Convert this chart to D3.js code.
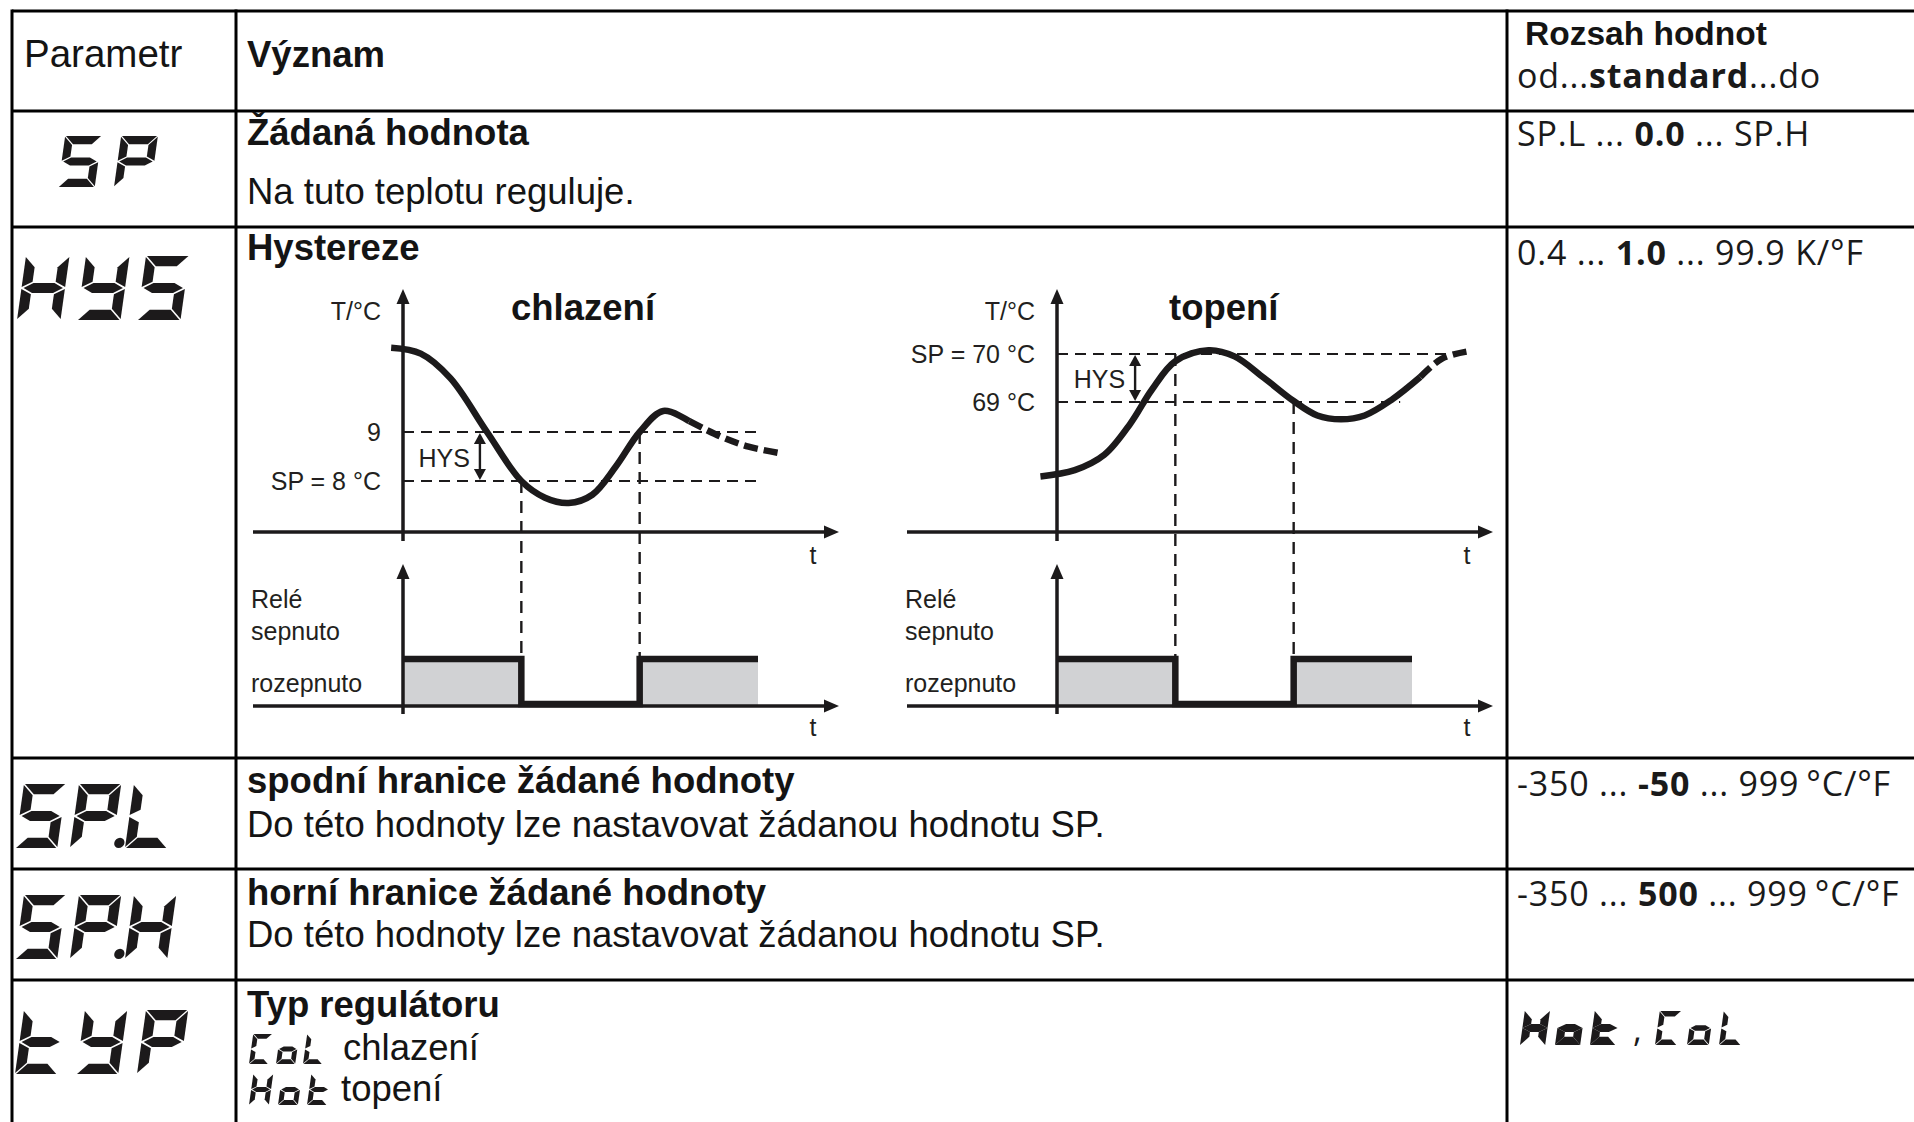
<!DOCTYPE html>
<html>
<head>
<meta charset="utf-8">
<script src="https://cdn.jsdelivr.net/npm/d3@7"></script>
<style>
  body { margin: 0; background: #fff; }
  text { font-family: "Liberation Sans", Arial, sans-serif; fill: #141414; }
  .main { font-size: 36.5px; }
  .bold { font-weight: bold; }
  .rng { font-family: "Open Sans", "Liberation Sans", sans-serif; font-size: 34px; letter-spacing: 0.8px; fill: #1a1a1a; }
  .lbl { font-size: 25px; fill: #231f20; }
</style>
</head>
<body>
<script>
// table content
const columns = ["Parametr", "Význam"];
const rangeHead = "Rozsah hodnot";
const rangeSub = ["od...", "standard", "...do"];
const params = ["SP", "HYS", "SP.L", "SP.H", "tYP"];
const titles = ["Žádaná hodnota", "Hystereze", "spodní hranice žádané hodnoty", "horní hranice žádané hodnoty", "Typ regulátoru"];
const notes = ["Na tuto teplotu reguluje.", "", "Do této hodnoty lze nastavovat žádanou hodnotu SP.", "Do této hodnoty lze nastavovat žádanou hodnotu SP.", ""];
const ranges = [["SP.L ... ", "0.0", " ... SP.H"], ["0.4 ... ", "1.0", " ... 99.9 K/°F"], ["-350 ... ", "-50", " ... 999", "°C/°F"], ["-350 ... ", "500", " ... 999", "°C/°F"], null];
const typOptions = [["CoL", "chlazení"], ["Hot", "topení"]];
const typValues = ["Hot", "CoL"];

// diagrams: time in relay periods, temperature in °C
const coolLevels = [8, 9];
const coolLabels = ["SP = 8 °C", "9"];
const heatLevels = [69, 70];
const heatLabels = ["69 °C", "SP = 70 °C"];
const coolCurve = [[-0.1, 10.72], [0.15, 10.6], [0.4, 10.1], [0.71, 9.0], [1.0, 8.0], [1.2, 7.66], [1.4, 7.55], [1.6, 7.72], [1.8, 8.3], [2.0, 9.0], [2.2, 9.43], [2.42, 9.22]];
const coolTail = [[2.42, 9.22], [2.55, 9.06], [2.73, 8.86], [2.92, 8.7], [3.18, 8.57]];
const heatCurve = [[-0.14, 67.45], [0.15, 67.58], [0.4, 67.9], [0.62, 68.55], [0.8, 69.25], [1.0, 69.85], [1.28, 70.08], [1.5, 69.95], [1.75, 69.5], [2.0, 69.02], [2.2, 68.72], [2.4, 68.64], [2.6, 68.72], [2.83, 69.05], [3.07, 69.52]];
const heatTail = [[3.07, 69.52], [3.25, 69.9], [3.46, 70.05]];
const relayStates = [[0, 1], [1, 0], [2, 1], [3, 1]];
const relayOn = [[0, 1], [2, 3]];
const coolSwitch = [[1, 8], [2, 9]];
const heatSwitch = [[1, 70], [2, 69]];
const relayLabels = ["Relé", "sepnuto", "rozepnuto"];

const W = 1914, H = 1122;
const ink = "#1c1a1b";
const svg = d3.select("body").append("svg").attr("width", W).attr("height", H);
svg.append("rect").attr("width", W).attr("height", H).attr("fill", "#fff");

// grid
const rowY = [11, 111, 227, 758, 869, 980];
const colX = [12, 236, 1507];
svg.selectAll(".hl").data(rowY).enter().append("line").attr("class", "hl")
  .attr("x1", colX[0]).attr("x2", W).attr("y1", d => d).attr("y2", d => d)
  .attr("stroke", "#000").attr("stroke-width", 3);
svg.selectAll(".vl").data(colX).enter().append("line").attr("class", "vl")
  .attr("x1", d => d).attr("x2", d => d).attr("y1", rowY[0] - 1.5).attr("y2", H)
  .attr("stroke", "#000").attr("stroke-width", 3);

// header
svg.append("text").attr("class", "main").attr("x", 24).attr("y", 67).style("font-size", "38.5px").text(columns[0]);
svg.append("text").attr("class", "main bold").attr("x", 247).attr("y", 67).text(columns[1]);
svg.append("text").attr("class", "bold").attr("x", 1525).attr("y", 45).style("font-size", "33.5px").text(rangeHead);
const sub = svg.append("text").attr("class", "rng").attr("x", 1517).attr("y", 88);
rangeSub.forEach((s, i) => sub.append("tspan").style("font-weight", i === 1 ? "bold" : null).text(s));

// rows
const titleY = [145, 260, 793, 905, 1017];
const noteY = [204, 0, 837, 947, 0];
const rangeY = [146, 265, 796, 906, 0];
titles.forEach((t, i) => {
  svg.append("text").attr("class", "main bold").attr("x", 247).attr("y", titleY[i]).text(t);
  if (notes[i]) svg.append("text").attr("class", "main").attr("x", 247).attr("y", noteY[i]).text(notes[i]);
  if (ranges[i]) {
    const r = svg.append("text").attr("class", "rng").attr("x", 1517).attr("y", rangeY[i]);
    ranges[i].forEach((s, k) => r.append("tspan")
      .attr("dx", k === 3 ? 7 : null)
      .style("font-weight", k === 1 ? "bold" : null).text(s));
  }
});

// seven segment lettering
const SEGMENTS = { S: "acdfg", P: "abefg", H: "bcefg", Y: "bcdfg", L: "def", t: "defg", C: "adef", o: "cdeg" };
function segPoly(s, w, h, t, gp) {
  const m = h / 2;
  switch (s) {
    case "a": return [[gp, 0], [w - gp, 0], [w - t - gp, t], [t + gp, t]];
    case "d": return [[gp, h], [w - gp, h], [w - t - gp, h - t], [t + gp, h - t]];
    case "f": return [[0, gp], [t, t + gp], [t, m - t / 2 - gp], [0, m - gp]];
    case "e": return [[0, h - gp], [t, h - t - gp], [t, m + t / 2 + gp], [0, m + gp]];
    case "b": return [[w, gp], [w - t, t + gp], [w - t, m - t / 2 - gp], [w, m - gp]];
    case "c": return [[w, h - gp], [w - t, h - t - gp], [w - t, m + t / 2 + gp], [w, m + gp]];
    default: return [[2 * gp, m], [t + gp, m - t / 2], [w - t - gp, m - t / 2], [w - 2 * gp, m], [w - t - gp, m + t / 2], [t + gp, m + t / 2]];
  }
}
const slant = Math.tan(8 * Math.PI / 180);
function drawCode(str, x, top, h, pitch, o = {}) {
  const w = h * (o.ratio || 0.66), t = h * (o.thick || 0.16), gp = o.gap ?? h * 0.016;
  let cx = x, last = null;
  for (const ch of str) {
    if (ch === ".") {
      last.append("circle").attr("cx", w + (pitch - w) / 2).attr("cy", h - t / 2).attr("r", t * 0.5).attr("fill", ink);
      continue;
    }
    const cg = svg.append("g").attr("transform", `translate(${cx + h * slant},${top}) skewX(-8)`);
    cg.selectAll("polygon").data(SEGMENTS[ch].split("")).enter().append("polygon")
      .attr("points", s => segPoly(s, w, h, t, gp).join(" ")).attr("fill", ink);
    last = cg;
    cx += pitch;
  }
}
const codePos = [[58, 136, 51, 56, { ratio: 0.72 }], [17, 256, 64, 60, { ratio: 0.68 }], [15, 784, 64, 55], [15, 895, 64, 55], [15, 1010, 64, 61]];
params.forEach((p, i) => drawCode(p, ...codePos[i]));

// typ options
drawCode(typOptions[0][0], 249, 1034, 30, 27, { ratio: 0.64 });
svg.append("text").attr("class", "main").attr("x", 343).attr("y", 1060).text(typOptions[0][1]);
drawCode(typOptions[1][0], 249, 1074, 31, 29, { ratio: 0.64 });
svg.append("text").attr("class", "main").attr("x", 341).attr("y", 1101).text(typOptions[1][1]);
drawCode(typValues[0], 1520, 1011, 34, 35, { ratio: 0.74, thick: 0.24, gap: 0 });
svg.append("text").attr("class", "rng").attr("x", 1633).attr("y", 1042).text(",");
drawCode(typValues[1], 1655, 1011, 34, 32, { ratio: 0.64 });

// diagrams
function arrowUp(g, x, y) {
  g.append("polygon").attr("points", [[x, y], [x - 6.5, y + 15], [x + 6.5, y + 15]].join(" ")).attr("fill", ink);
}
function arrowRight(g, x, y) {
  g.append("polygon").attr("points", [[x, y], [x - 15, y - 6.5], [x - 15, y + 6.5]].join(" ")).attr("fill", ink);
}

function drawPanel(p) {
  const g = svg.append("g");
  const x = d3.scaleLinear().domain([0, 3]).range([p.ox, p.ox + 355]);
  const y = d3.scaleLinear().domain(p.levels).range(p.levelY);
  const yr = d3.scaleLinear().domain([0, 1]).range([706, 659]);
  const axisY = 532, left = p.ox - 150, tip = p.ox + 436;

  // gray relay areas
  relayOn.forEach(iv => {
    g.append("path").datum(iv)
      .attr("d", d3.area().x(d => x(d)).y0(yr(0)).y1(yr(1))(iv))
      .attr("fill", "#d1d2d4");
  });

  // level lines
  p.levels.forEach((l, i) => {
    g.append("line").attr("x1", x(0)).attr("x2", x(p.levelEnd[i])).attr("y1", y(l)).attr("y2", y(l))
      .attr("stroke", ink).attr("stroke-width", 2.2).attr("stroke-dasharray", "11 7");
    g.append("text").attr("class", "lbl").attr("text-anchor", "end")
      .attr("x", p.ox - 22).attr("y", y(l) + 9).text(p.labels[i]);
  });
  // switching verticals
  p.switches.forEach(([t, l]) => {
    g.append("line").attr("x1", x(t)).attr("x2", x(t)).attr("y1", y(l)).attr("y2", yr(1))
      .attr("stroke", ink).attr("stroke-width", 2.4).attr("stroke-dasharray", "12 8");
  });

  // axes
  g.append("line").attr("x1", x(0)).attr("x2", x(0)).attr("y1", 300).attr("y2", 541).attr("stroke", ink).attr("stroke-width", 3.5);
  arrowUp(g, x(0), 289);
  g.append("line").attr("x1", left).attr("x2", tip - 8).attr("y1", axisY).attr("y2", axisY).attr("stroke", ink).attr("stroke-width", 3.5);
  arrowRight(g, tip, axisY);
  g.append("line").attr("x1", x(0)).attr("x2", x(0)).attr("y1", 575).attr("y2", 714).attr("stroke", ink).attr("stroke-width", 3.5);
  arrowUp(g, x(0), 564);
  g.append("line").attr("x1", left).attr("x2", tip - 8).attr("y1", yr(0)).attr("y2", yr(0)).attr("stroke", ink).attr("stroke-width", 3.5);
  arrowRight(g, tip, yr(0));

  // relay state
  g.append("path").attr("d", d3.line().x(d => x(d[0])).y(d => yr(d[1]) - (d[1] ? 0 : 2)).curve(d3.curveStepAfter)(relayStates))
    .attr("fill", "none").attr("stroke", ink).attr("stroke-width", 6.5);

  // temperature curve
  const line = d3.line().x(d => x(d[0])).y(d => y(d[1])).curve(d3.curveCatmullRom.alpha(0.5));
  g.append("path").attr("d", line(p.curve)).attr("fill", "none").attr("stroke", ink).attr("stroke-width", 6.5);
  g.append("path").attr("d", line(p.tail)).attr("fill", "none").attr("stroke", ink).attr("stroke-width", 6.5).attr("stroke-dasharray", "14 6");

  // hysteresis arrow
  const hx = x(p.hysT), yA = y(p.levels[1]), yB = y(p.levels[0]);
  g.append("line").attr("x1", hx).attr("x2", hx).attr("y1", yA + 6).attr("y2", yB - 6).attr("stroke", ink).attr("stroke-width", 2.4);
  g.append("polygon").attr("points", [[hx, yA + 1], [hx - 6, yA + 12], [hx + 6, yA + 12]].join(" ")).attr("fill", ink);
  g.append("polygon").attr("points", [[hx, yB - 1], [hx - 6, yB - 12], [hx + 6, yB - 12]].join(" ")).attr("fill", ink);
  g.append("text").attr("class", "lbl").attr("text-anchor", "end").attr("x", hx - 10).attr("y", (yA + yB) / 2 + 10).text("HYS");

  // labels
  g.append("text").attr("class", "lbl").attr("text-anchor", "end").attr("x", p.ox - 22).attr("y", 320).text("T/°C");
  g.append("text").attr("class", "main bold").attr("x", p.ox + p.titleDx).attr("y", 320).text(p.title);
  g.append("text").attr("class", "lbl").attr("text-anchor", "middle").attr("x", tip - 26).attr("y", 564).text("t");
  g.append("text").attr("class", "lbl").attr("text-anchor", "middle").attr("x", tip - 26).attr("y", 736).text("t");
  relayLabels.forEach((s, i) => {
    g.append("text").attr("class", "lbl").attr("x", left - 2).attr("y", [608, 640, 692][i]).text(s);
  });
}

drawPanel({ ox: 403, levels: coolLevels, levelY: [481, 432], labels: coolLabels, levelEnd: [3, 3],
  curve: coolCurve, tail: coolTail, switches: coolSwitch, hysT: 0.65, title: "chlazení", titleDx: 108 });
drawPanel({ ox: 1057, levels: heatLevels, levelY: [402, 354], labels: heatLabels, levelEnd: [2.9, 3.45],
  curve: heatCurve, tail: heatTail, switches: heatSwitch, hysT: 0.66, title: "topení", titleDx: 112 });
</script>
</body>
</html>
